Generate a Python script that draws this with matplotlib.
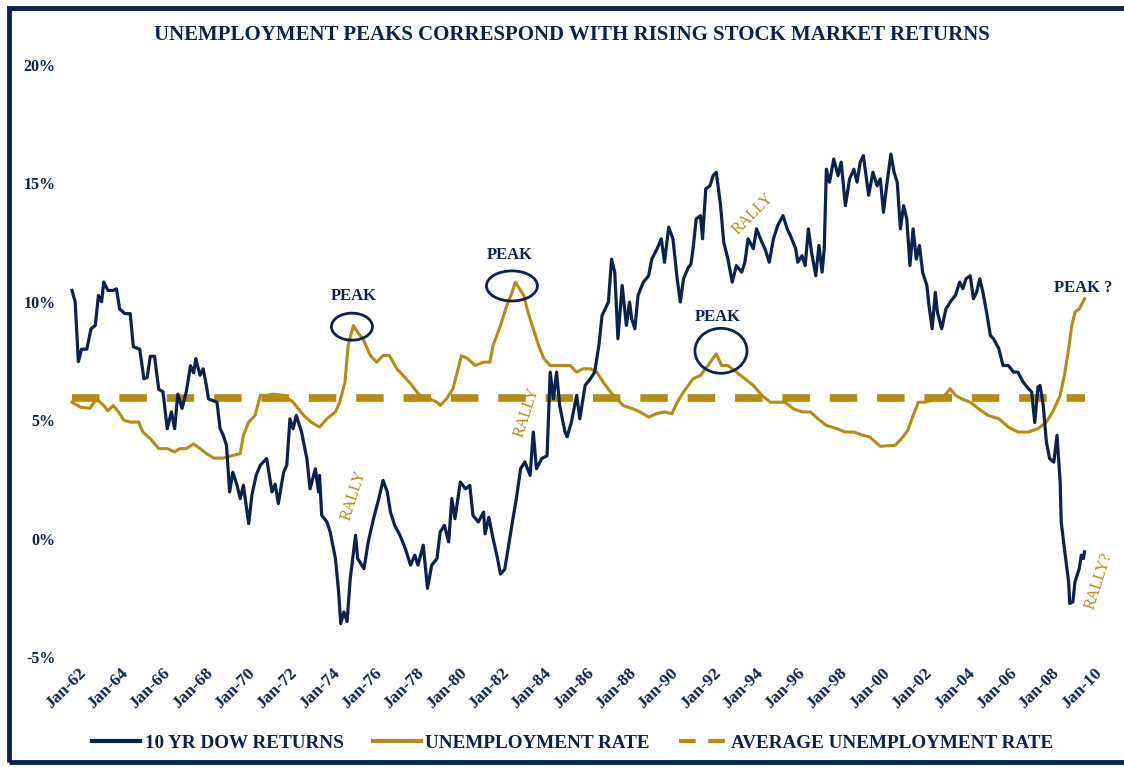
import matplotlib
matplotlib.use("Agg")
import matplotlib.pyplot as plt
import matplotlib.transforms as mtransforms
from matplotlib.patches import Ellipse, Rectangle
from matplotlib.lines import Line2D

# ---------------- data ----------------
dow_years = [1962.00, 1962.15, 1962.30, 1962.45, 1962.70, 1962.90, 1963.10, 1963.25, 1963.40, 1963.50,
             1963.70, 1963.95, 1964.10, 1964.25, 1964.50, 1964.75, 1964.90, 1965.20, 1965.40, 1965.55,
             1965.70, 1965.90, 1966.10, 1966.30, 1966.50, 1966.70, 1966.85, 1967.00, 1967.20, 1967.40,
             1967.60, 1967.75, 1967.85, 1968.05, 1968.20, 1968.35, 1968.45, 1968.85, 1969.00, 1969.15,
             1969.30, 1969.45, 1969.60, 1969.80, 1969.95, 1970.10, 1970.35, 1970.50, 1970.70, 1970.90,
             1971.20, 1971.45, 1971.60, 1971.75, 1972.00, 1972.15, 1972.30, 1972.45, 1972.60, 1972.85,
             1973.10, 1973.25, 1973.50, 1973.65, 1973.70, 1973.80, 1974.05, 1974.20, 1974.45, 1974.60,
             1974.70, 1974.85, 1975.00, 1975.15, 1975.40, 1975.50, 1975.80, 1976.00, 1976.25, 1976.50,
             1976.70, 1976.90, 1977.05, 1977.25, 1977.50, 1977.75, 1978.00, 1978.20, 1978.35, 1978.60,
             1978.80, 1979.00, 1979.25, 1979.40, 1979.60, 1979.80, 1979.95, 1980.10, 1980.35, 1980.60,
             1980.80, 1980.95, 1981.20, 1981.45, 1981.52, 1981.70, 1981.90, 1982.10, 1982.25, 1982.45,
             1982.65, 1982.85, 1983.00, 1983.20, 1983.40, 1983.65, 1983.80, 1983.95, 1984.20, 1984.45,
             1984.60, 1984.75, 1984.90, 1985.05, 1985.30, 1985.40, 1985.60, 1985.85, 1986.00, 1986.25,
             1986.50, 1986.70, 1986.90, 1987.05, 1987.20, 1987.35, 1987.50, 1987.65, 1987.80, 1988.00,
             1988.20, 1988.35, 1988.45, 1988.60, 1988.75, 1989.00, 1989.25, 1989.40, 1989.65, 1989.85,
             1990.00, 1990.20, 1990.40, 1990.60, 1990.75, 1990.90, 1991.10, 1991.25, 1991.35, 1991.50,
             1991.70, 1991.80, 1991.95, 1992.15, 1992.30, 1992.45, 1992.65, 1992.80, 1993.00, 1993.20,
             1993.40, 1993.65, 1993.80, 1993.95, 1994.20, 1994.35, 1994.60, 1994.75, 1994.95, 1995.15,
             1995.35, 1995.60, 1995.80, 1995.95, 1996.20, 1996.30, 1996.50, 1996.65, 1996.80, 1996.95,
             1997.15, 1997.30, 1997.45, 1997.55, 1997.65, 1997.80, 1998.00, 1998.20, 1998.35, 1998.55,
             1998.75, 1998.95, 1999.10, 1999.25, 1999.40, 1999.65, 1999.85, 2000.05, 2000.20, 2000.35,
             2000.50, 2000.70, 2000.85, 2001.00, 2001.15, 2001.30, 2001.45, 2001.60, 2001.75, 2001.90,
             2002.05, 2002.20, 2002.40, 2002.50, 2002.65, 2002.80, 2002.90, 2003.10, 2003.30, 2003.55,
             2003.75, 2003.95, 2004.10, 2004.25, 2004.45, 2004.60, 2004.75, 2004.90, 2005.05, 2005.25,
             2005.40, 2005.55, 2005.80, 2006.00, 2006.25, 2006.50, 2006.70, 2006.95, 2007.20, 2007.35,
             2007.50, 2007.65, 2007.75, 2007.90, 2008.05, 2008.20, 2008.40, 2008.55, 2008.70, 2008.75,
             2008.90, 2009.10, 2009.15, 2009.30, 2009.40, 2009.50, 2009.60, 2009.70, 2009.80, 2009.85]
dow_returns = [10.48, 10.0, 7.47, 8.0, 8.0, 8.86, 9.0, 10.27, 10.0, 10.84,
               10.48, 10.48, 10.55, 9.7, 9.5, 9.5, 8.1, 8.0, 6.75, 6.8,
               7.7, 7.7, 6.3, 6.2, 4.64, 5.35, 4.64, 6.1, 5.5, 6.2,
               7.3, 7.0, 7.6, 6.9, 7.17, 6.47, 5.9, 5.76, 4.64, 4.36,
               3.94, 1.97, 2.8, 2.25, 1.69, 2.25, 0.63, 1.83, 2.67, 3.1,
               3.38, 1.97, 2.3, 1.48, 2.8, 3.1, 5.06, 4.64, 5.2, 4.5,
               3.38, 2.1, 2.95, 1.97, 2.67, 0.98, 0.7, 0.28, -0.84, -2.25,
               -3.59, -3.1, -3.5, -1.69, 0.14, -0.84, -1.27, -0.14, 0.84, 1.69,
               2.46, 1.97, 1.12, 0.56, 0.14, -0.42, -1.12, -0.7, -1.12, -0.28,
               -2.1, -1.12, -0.84, 0.28, 0.56, -0.14, 1.69, 0.84, 2.39, 2.1,
               2.25, 0.98, 0.7, 1.12, 0.2, 0.9, 0.0, -0.8, -1.5, -1.3,
               -0.2, 0.9, 1.69, 2.95, 3.24, 2.67, 4.5, 2.95, 3.38, 3.5,
               7.03, 5.9, 7.03, 5.6, 4.5, 4.3, 4.92, 6.05, 5.06, 6.47,
               6.75, 7.03, 8.16, 9.42, 9.7, 9.99, 11.8, 11.25, 8.44, 10.69,
               9.0, 9.99, 9.28, 8.86, 10.27, 10.83, 11.1, 11.8, 12.24, 12.66,
               11.67, 13.15, 12.66, 10.97, 9.99, 10.97, 11.4, 11.6, 12.24, 13.5,
               13.64, 12.66, 14.77, 14.9, 15.33, 15.47, 14.06, 12.52, 11.8, 10.83,
               11.53, 11.25, 11.67, 12.66, 12.24, 13.08, 12.52, 12.24, 11.67, 12.66,
               13.22, 13.64, 13.08, 12.8, 12.24, 11.67, 11.95, 11.53, 13.08, 12.1,
               11.1, 12.38, 11.25, 12.24, 15.6, 15.05, 16.03, 15.33, 15.9, 14.06,
               15.19, 15.6, 15.05, 15.9, 16.17, 14.5, 15.47, 14.9, 15.19, 13.78,
               14.9, 16.24, 15.47, 15.05, 13.08, 14.06, 13.5, 11.53, 13.08, 11.8,
               12.38, 11.25, 10.69, 9.85, 8.86, 10.4, 9.56, 8.86, 9.7, 10.05,
               10.27, 10.83, 10.55, 10.97, 11.1, 10.13, 10.4, 10.97, 10.4, 9.42,
               8.58, 8.44, 8.02, 7.31, 7.31, 7.03, 7.03, 6.61, 6.33, 6.2,
               4.9, 6.4, 6.47, 5.62, 4.08, 3.38, 3.23, 4.36, 2.39, 0.7,
               -0.42, -1.83, -2.74, -2.67, -1.83, -1.55, -1.27, -0.7, -0.84, -0.56]

unemp_years = [1962.00, 1962.40, 1962.85, 1963.15, 1963.50, 1963.70, 1963.95, 1964.20, 1964.45, 1964.75,
               1965.15, 1965.35, 1965.70, 1966.10, 1966.50, 1966.85, 1967.10, 1967.40, 1967.75, 1968.05,
               1968.35, 1968.70, 1969.15, 1969.55, 1969.95, 1970.10, 1970.35, 1970.65, 1970.90, 1971.20,
               1971.50, 1972.00, 1972.45, 1972.95, 1973.30, 1973.70, 1974.05, 1974.45, 1974.65, 1974.90,
               1975.05, 1975.30, 1975.55, 1975.75, 1976.10, 1976.40, 1976.70, 1977.00, 1977.35, 1977.65,
               1978.00, 1978.30, 1978.60, 1978.90, 1979.25, 1979.40, 1979.70, 1980.00, 1980.25, 1980.40,
               1980.70, 1981.05, 1981.45, 1981.75, 1981.90, 1982.25, 1982.55, 1982.80, 1982.95, 1983.15,
               1983.35, 1983.55, 1983.80, 1984.05, 1984.30, 1984.60, 1984.90, 1985.20, 1985.55, 1985.85,
               1986.15, 1986.50, 1986.80, 1987.10, 1987.45, 1987.75, 1988.05, 1988.50, 1988.85, 1989.25,
               1989.60, 1990.00, 1990.35, 1990.60, 1990.90, 1991.35, 1991.70, 1992.05, 1992.45, 1992.70,
               1993.00, 1993.40, 1993.80, 1994.20, 1994.60, 1995.00, 1995.30, 1995.70, 1996.10, 1996.50,
               1996.90, 1997.25, 1997.65, 1998.15, 1998.55, 1998.95, 1999.40, 1999.70, 2000.20, 2000.90,
               2001.20, 2001.50, 2001.75, 2002.00, 2002.30, 2002.60, 2002.90, 2003.25, 2003.50, 2003.75,
               2004.05, 2004.45, 2004.85, 2005.30, 2005.80, 2006.25, 2006.70, 2007.20, 2007.65, 2008.05,
               2008.35, 2008.70, 2008.90, 2009.10, 2009.25, 2009.40, 2009.60, 2009.85]
unemp_rate = [5.76, 5.55, 5.5, 5.9, 5.62, 5.4, 5.62, 5.35, 5.0, 4.92,
              4.92, 4.5, 4.22, 3.8, 3.8, 3.66, 3.8, 3.8, 4.0, 3.8,
              3.59, 3.4, 3.4, 3.5, 3.59, 4.36, 4.92, 5.2, 6.05, 6.05,
              6.1, 6.05, 5.76, 5.2, 4.92, 4.71, 5.06, 5.35, 5.76, 6.6,
              8.16, 9.0, 8.65, 8.44, 7.73, 7.45, 7.73, 7.73, 7.17, 6.89,
              6.54, 6.19, 5.9, 5.9, 5.76, 5.62, 5.9, 6.33, 7.17, 7.73,
              7.6, 7.31, 7.45, 7.45, 8.16, 9.0, 9.85, 10.4, 10.83, 10.55,
              10.27, 9.56, 8.86, 8.16, 7.6, 7.31, 7.31, 7.31, 7.31, 7.03,
              7.17, 7.17, 7.03, 6.61, 6.19, 5.9, 5.62, 5.48, 5.35, 5.13,
              5.27, 5.35, 5.27, 5.76, 6.19, 6.75, 6.89, 7.31, 7.8, 7.31,
              7.31, 7.03, 6.75, 6.47, 6.05, 5.76, 5.76, 5.76, 5.48, 5.35,
              5.35, 5.06, 4.78, 4.64, 4.5, 4.5, 4.36, 4.29, 3.9, 3.94,
              4.22, 4.57, 5.2, 5.76, 5.76, 5.83, 5.9, 6.05, 6.33, 6.05,
              5.9, 5.76, 5.48, 5.2, 5.06, 4.71, 4.5, 4.5, 4.64, 4.92,
              5.35, 6.05, 6.89, 8.02, 9.0, 9.56, 9.7, 10.13]

avg_unemp = 5.95

tick_years = list(range(1962, 2011, 2))
tick_labels = ["Jan-%02d" % (y % 100) for y in tick_years]

title = "UNEMPLOYMENT PEAKS CORRESPOND WITH RISING STOCK MARKET RETURNS"
legend_labels = ["10 YR DOW RETURNS", "UNEMPLOYMENT RATE", "AVERAGE UNEMPLOYMENT RATE"]

# annotations: (text, x, y[, rotation])
peak_labels = [("PEAK", 1975.33, 10.25), ("PEAK", 1982.70, 11.98),
               ("PEAK", 1992.53, 9.37), ("PEAK ?", 2009.78, 10.59)]
peak_circles = [(1975.23, 8.95, 1.94, 1.14), (1982.79, 10.67, 2.41, 1.27),
                (1992.67, 7.93, 2.46, 1.90)]
rally_labels = [("RALLY", 1975.33, 1.81, 72), ("RALLY", 1983.50, 5.32, 72),
                ("RALLY", 1994.18, 13.71, 45), ("RALLY?", 2010.53, -1.77, 72)]

# ---------------- styling ----------------
NAVY = "#0B2250"
GOLD = "#B58B12"
FONT = "Liberation Serif"

W, H = 1124, 767
fig = plt.figure(figsize=(W / 100, H / 100), dpi=100)

x_left_px, x_right_px = 60, 1100
xl0 = 1962 + (x_left_px - 72) / 21.16
xl1 = 1962 + (x_right_px - 72) / 21.16
ax = fig.add_axes([x_left_px / W, 1 - 657 / H, (x_right_px - x_left_px) / W, (657 - 65) / H])
ax.set_xlim(xl0, xl1)
ax.set_ylim(-5, 20)

ax.plot(dow_years, dow_returns, color=NAVY, lw=2.3, solid_joinstyle="round", zorder=3)
ax.plot(unemp_years, unemp_rate, color=GOLD, lw=2.2, solid_joinstyle="round", zorder=2)
ax.plot([unemp_years[0], unemp_years[-1]], [avg_unemp, avg_unemp], color=GOLD, lw=5.5,
        dashes=(3.6, 2.6), dash_capstyle="butt", zorder=1)

for s in ax.spines.values():
    s.set_visible(False)
ax.set_yticks([-5, 0, 5, 10, 15, 20])
ax.set_yticklabels(["%d%%" % v for v in [-5, 0, 5, 10, 15, 20]])
ax.set_xticks(tick_years)
ax.set_xticklabels(tick_labels, rotation=45, ha="right", va="top", rotation_mode="anchor")
ax.tick_params(axis="both", length=0, colors=NAVY)
ax.tick_params(axis="y", pad=3)
ax.tick_params(axis="x", pad=6)
shift = mtransforms.ScaledTranslation(6 / 100, 0, fig.dpi_scale_trans)
for lab in ax.get_yticklabels():
    lab.set_fontfamily(FONT); lab.set_fontweight("bold"); lab.set_fontsize(11.5); lab.set_color(NAVY)
for lab in ax.get_xticklabels():
    lab.set_fontfamily(FONT); lab.set_fontweight("bold"); lab.set_fontsize(12.5); lab.set_color(NAVY)
    lab.set_transform(lab.get_transform() + shift)

for txt, x, y in peak_labels:
    ax.text(x, y, txt, ha="center", va="center", fontsize=12, fontweight="bold",
            family=FONT, color=NAVY, clip_on=False)
for cx, cy, w, h in peak_circles:
    ax.add_patch(Ellipse((cx, cy), w, h, fill=False, edgecolor=NAVY, lw=2.0, zorder=4))
for txt, x, y, rot in rally_labels:
    ax.text(x, y, txt, ha="center", va="center", rotation=rot, fontsize=11.5,
            family=FONT, color=GOLD, clip_on=False)

fig.text(572 / W, 1 - 35 / H, title, ha="center", va="center", fontsize=15,
         fontweight="bold", family=FONT, color=NAVY)

handles = [Line2D([], [], color=NAVY, lw=3),
           Line2D([], [], color=GOLD, lw=3),
           Line2D([], [], color=GOLD, lw=3, dashes=(4, 3), dash_capstyle="butt")]
leg = fig.legend(handles, legend_labels, loc="center", bbox_to_anchor=(573 / W, 1 - 743 / H),
                 ncol=3, frameon=False, handlelength=2.5, handletextpad=0.25, columnspacing=1.5,
                 prop={"family": FONT, "weight": "bold", "size": 13.8})
for t in leg.get_texts():
    t.set_color(NAVY)

fig.patches.append(Rectangle((9 / W, 1 - 762 / H), 1.02 - 9 / W, (762 - 8) / H,
                             transform=fig.transFigure, fill=False, edgecolor=NAVY, lw=3.5))

fig.savefig("out.png", dpi=100, facecolor="white")
